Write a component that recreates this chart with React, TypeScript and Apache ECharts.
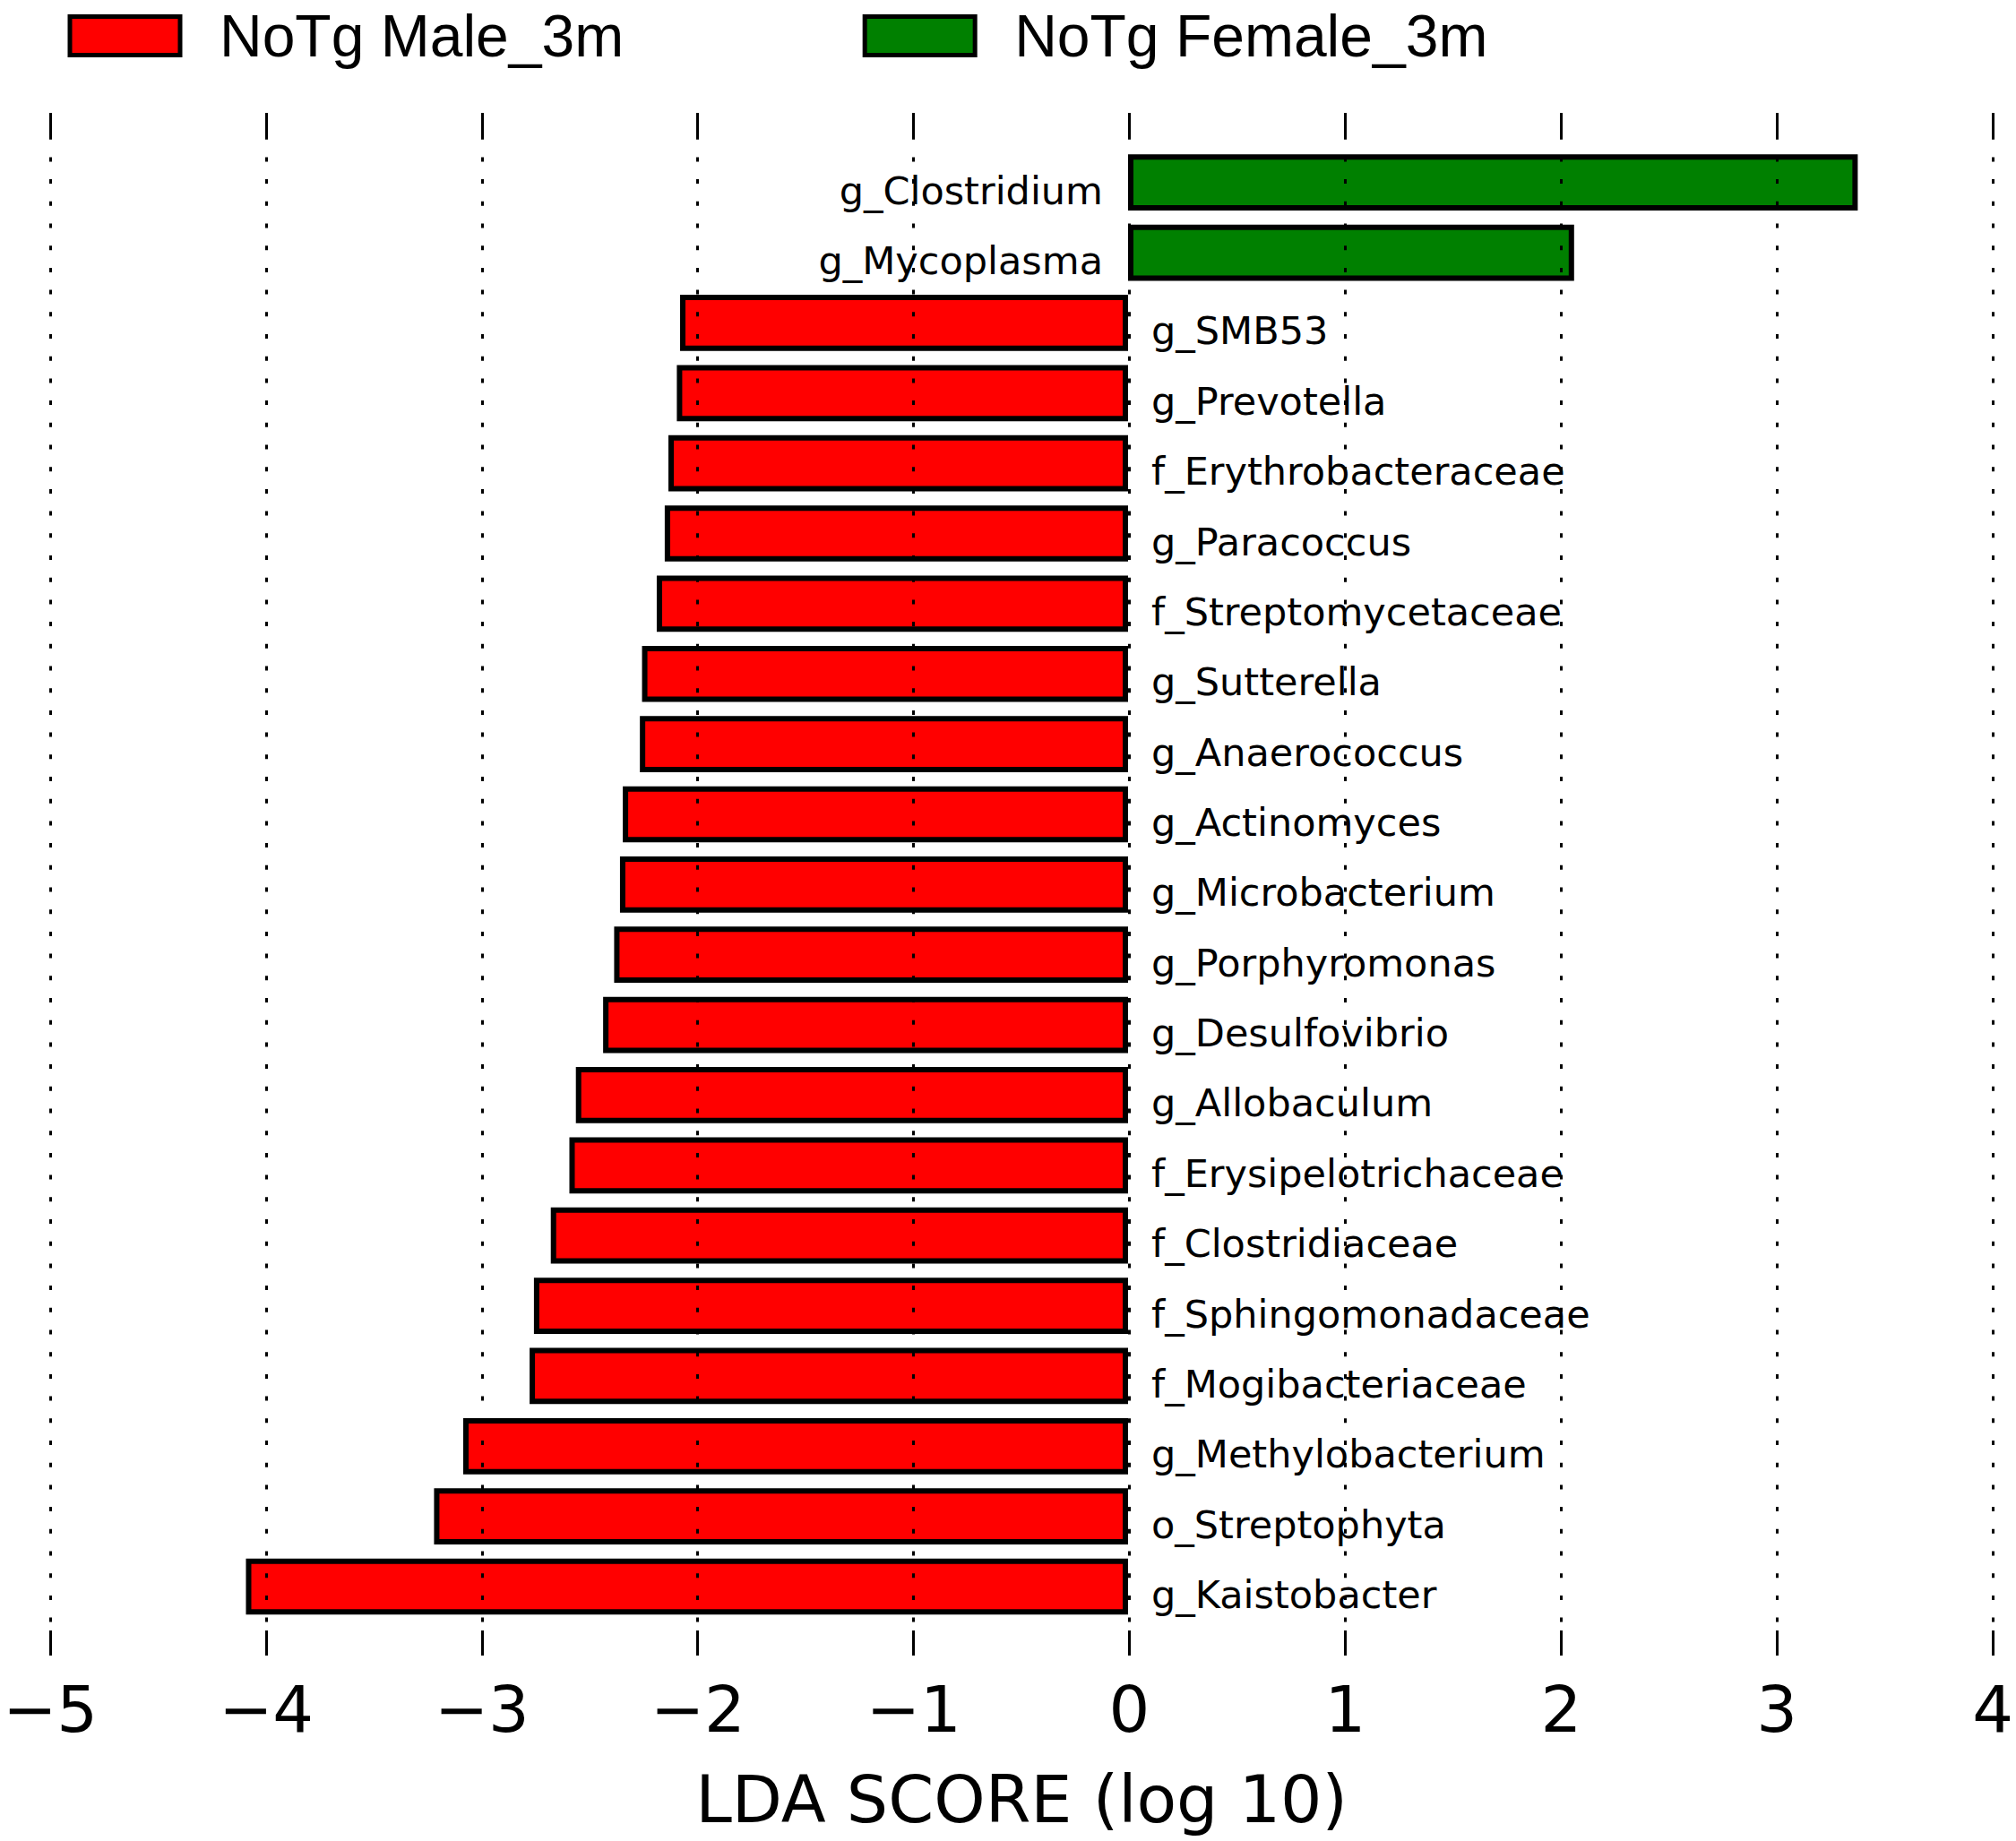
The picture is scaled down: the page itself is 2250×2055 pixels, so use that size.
import React, { useEffect, useRef } from "react";
import * as echarts from "echarts";

const categories = [
  "g_Clostridium",
  "g_Mycoplasma",
  "g_SMB53",
  "g_Prevotella",
  "f_Erythrobacteraceae",
  "g_Paracoccus",
  "f_Streptomycetaceae",
  "g_Sutterella",
  "g_Anaerococcus",
  "g_Actinomyces",
  "g_Microbacterium",
  "g_Porphyromonas",
  "g_Desulfovibrio",
  "g_Allobaculum",
  "f_Erysipelotrichaceae",
  "f_Clostridiaceae",
  "f_Sphingomonadaceae",
  "f_Mogibacteriaceae",
  "g_Methylobacterium",
  "o_Streptophyta",
  "g_Kaistobacter",
];

const scores = [
  3.375, 2.063, -2.072, -2.087, -2.126, -2.143, -2.18, -2.248, -2.258, -2.337,
  -2.35, -2.377, -2.428, -2.554, -2.584, -2.67, -2.748, -2.768, -3.075, -3.21,
  -4.08,
];

const legendNames = ["NoTg Male_3m", "NoTg Female_3m"];
const xAxisTitle = "LDA SCORE (log 10)";
const xMin = -5;
const xMax = 4;
const xStep = 1;

export default function App() {
  const ref = useRef<HTMLDivElement>(null);

  useEffect(() => {
    if (!ref.current) return;
    const chart = echarts.init(ref.current, null, { renderer: "svg" });
    const FONT = "DejaVu Sans";
    const plotLeft = 52.5;
    const plotRight = 2224.2;
    const frameTop = 126;
    const frameBottom = 1848;
    const barTop = 164.5;
    const barBottom = 1810.2;

    const male = scores.map((v) => (v < 0 ? v : "-"));
    const female = scores.map((v) => (v > 0 ? v : "-"));

    const tickStyle = {
      show: true,
      inside: true,
      length: 28,
      lineStyle: { color: "#000", width: 3 },
    };

    const labelBase = {
      show: true,
      formatter: "{b}",
      fontSize: 43,
      color: "#000",
      fontFamily: FONT,
      offset: [0, 9],
    };

    const option = {
      animation: false,
      backgroundColor: "#ffffff",
      textStyle: { fontFamily: FONT },
      legend: {
        data: legendNames,
        left: 75.5,
        top: 7,
        padding: 0,
        itemWidth: 123,
        itemHeight: 43,
        itemGap: 266.5,
        icon: "rect",
        itemStyle: { borderColor: "#000", borderWidth: 5 },
        textStyle: {
          fontFamily: "Liberation Sans",
          fontSize: 66,
          color: "#000",
          padding: [0, 0, 0, 39],
          lineHeight: 66,
        },
      },
      grid: [
        {
          left: plotLeft,
          width: plotRight - plotLeft,
          top: frameTop,
          height: frameBottom - frameTop,
        },
        {
          left: plotLeft,
          width: plotRight - plotLeft,
          top: barTop,
          height: barBottom - barTop,
        },
      ],
      xAxis: [
        {
          gridIndex: 0,
          type: "value",
          min: xMin,
          max: xMax,
          interval: xStep,
          position: "bottom",
          z: 5,
          axisLine: { show: false },
          axisTick: tickStyle,
          axisLabel: {
            show: true,
            margin: 60,
            verticalAlign: "middle",
            fontSize: 72,
            color: "#000",
            fontFamily: FONT,
            formatter: (v: number) =>
              v < 0 ? "\u2212" + Math.abs(v) : String(v),
          },
          splitLine: {
            show: true,
            lineStyle: { color: "#000", width: 3, type: [5, 19.7] },
          },
          name: xAxisTitle,
          nameLocation: "middle",
          nameGap: 160,
          nameTextStyle: {
            fontSize: 73,
            color: "#000",
            fontFamily: FONT,
            verticalAlign: "middle",
          },
        },
        {
          gridIndex: 0,
          type: "value",
          min: xMin,
          max: xMax,
          interval: xStep,
          position: "top",
          z: 5,
          axisLine: { show: false },
          axisTick: tickStyle,
          axisLabel: { show: false },
          splitLine: { show: false },
        },
        {
          gridIndex: 1,
          type: "value",
          min: xMin,
          max: xMax,
          interval: xStep,
          show: false,
          splitLine: { show: false },
        },
      ],
      yAxis: [
        { gridIndex: 0, type: "value", min: 0, max: 1, show: false, splitLine: { show: false } },
        {
          gridIndex: 1,
          type: "category",
          data: categories,
          inverse: true,
          show: false,
        },
      ],
      series: [
        {
          name: legendNames[0],
          type: "bar",
          xAxisIndex: 2,
          yAxisIndex: 1,
          data: male,
          barCategoryGap: "20%",
          barGap: "-100%",
          itemStyle: { color: "#ff0000", borderColor: "#000", borderWidth: 6 },
          label: { ...labelBase, position: "right", distance: 26 },
        },
        {
          name: legendNames[1],
          type: "bar",
          xAxisIndex: 2,
          yAxisIndex: 1,
          data: female,
          barCategoryGap: "20%",
          barGap: "-100%",
          itemStyle: { color: "#008000", borderColor: "#000", borderWidth: 6 },
          label: { ...labelBase, position: "left", distance: 28 },
        },
      ],
    };

    chart.setOption(option as any);
    return () => {
      chart.dispose();
    };
  }, []);

  return (
    <div
      ref={ref}
      style={{ position: "fixed", left: 0, top: 0, width: 2250, height: 2055 }}
    />
  );
}
